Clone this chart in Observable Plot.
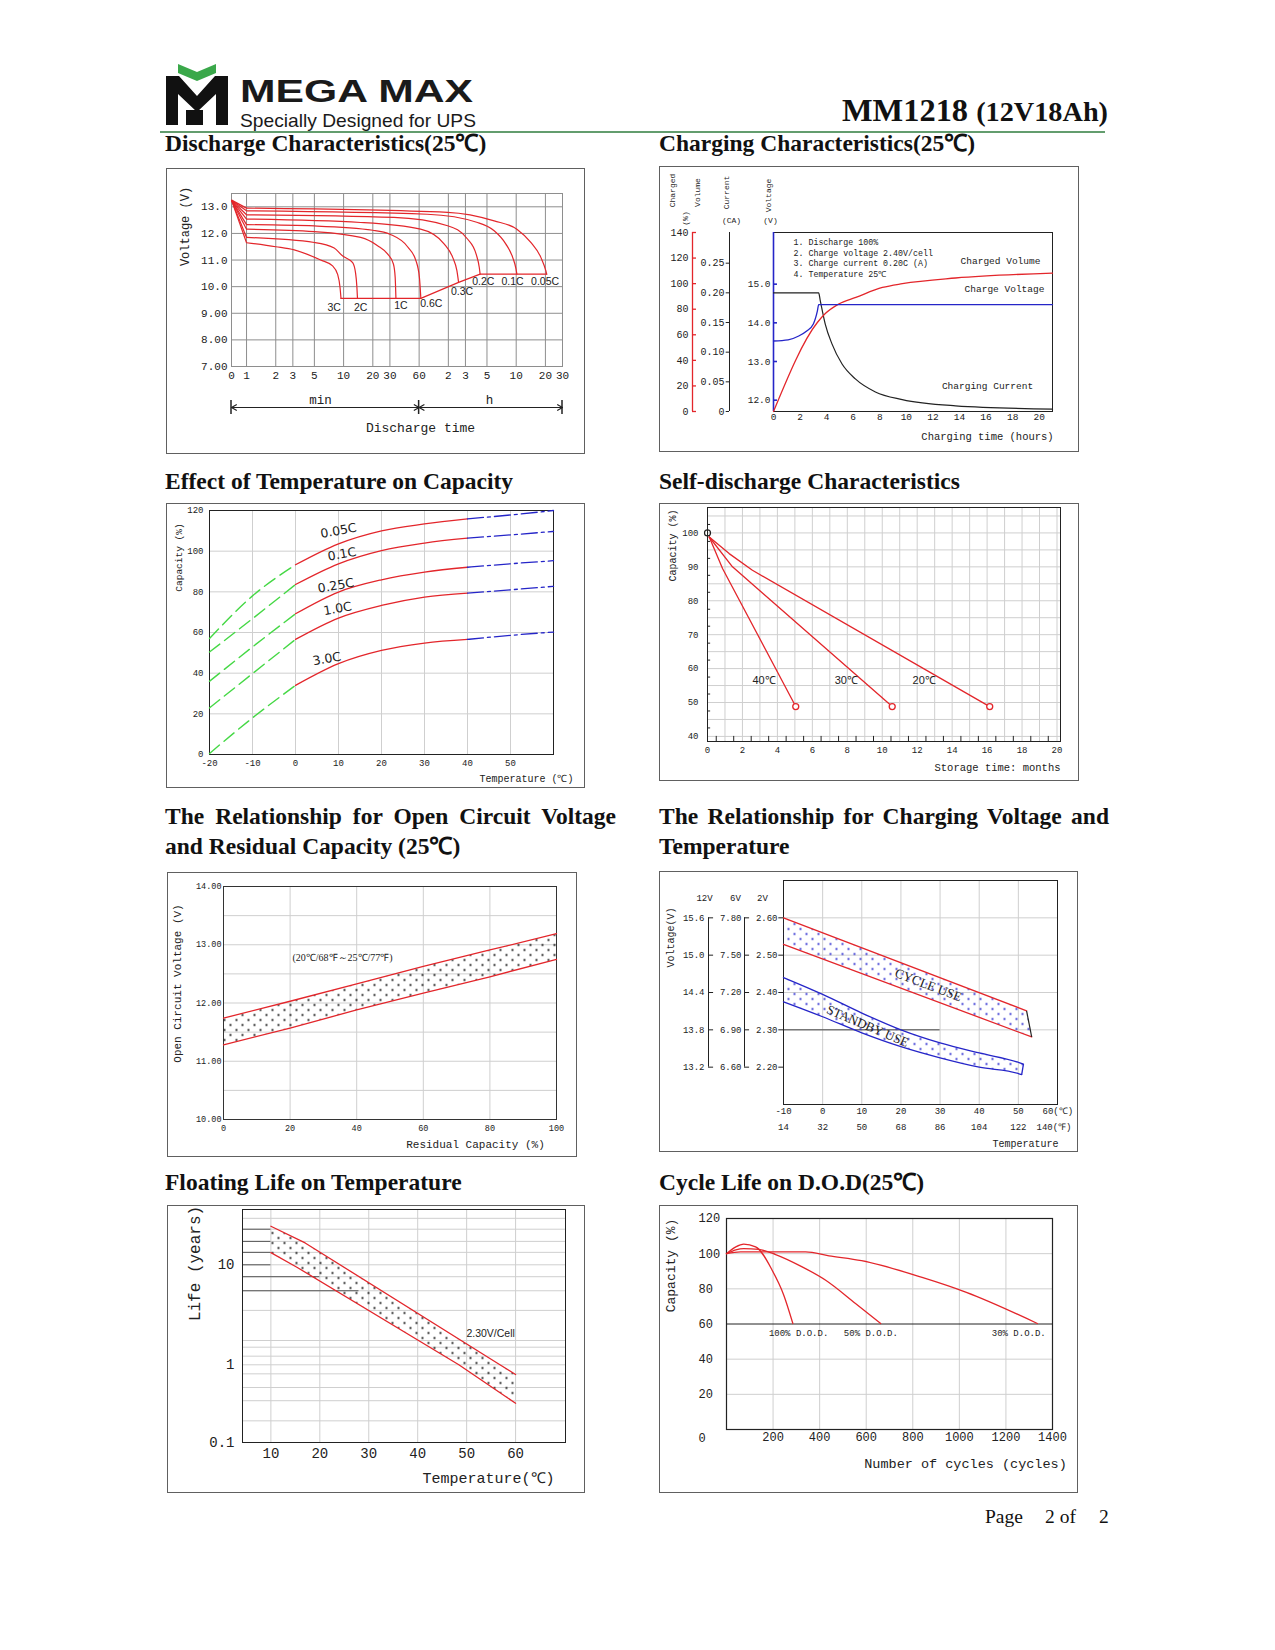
<!DOCTYPE html>
<html><head><meta charset="utf-8">
<script src="https://cdn.jsdelivr.net/npm/d3@7"></script>
<script src="https://cdn.jsdelivr.net/npm/@observablehq/plot@0.6"></script>
<style>
html,body{margin:0;padding:0;background:#fff;}
#page{position:relative;width:1275px;height:1650px;background:#fff;overflow:hidden;}
.box{position:absolute;border:1.5px solid #606060;box-sizing:border-box;}
.title{position:absolute;font-family:"Liberation Serif","Times New Roman",serif;font-weight:bold;font-size:23.5px;line-height:26px;color:#111;white-space:nowrap;}
.just{text-align:justify;text-align-last:justify;white-space:normal;}
.foot{position:absolute;font-family:"Liberation Serif",serif;font-size:19.5px;color:#111;line-height:22px;}
</style></head>
<body><div id="page">
<svg width="0" height="0" style="position:absolute">
<defs>
<pattern id="dotsBlack" width="12" height="10" patternUnits="userSpaceOnUse"><circle cx="3" cy="2.5" r="1.1" fill="#111"/><circle cx="9" cy="7.5" r="1.1" fill="#111"/></pattern>
<pattern id="dotsBlue" width="12" height="10" patternUnits="userSpaceOnUse"><circle cx="3" cy="2.5" r="1.1" fill="#2a2ad0"/><circle cx="9" cy="7.5" r="1.1" fill="#2a2ad0"/></pattern>
</defs></svg>
<svg style="position:absolute;left:0;top:0" width="1275" height="140">
 <polygon points="178,64 197,72 216,64 216,73 197,81 178,73" fill="#3aa84a"/>
 <path d="M166,76 H179 L197,96 L215,76 H228 V125 H216 V94 L197,112 L178,94 V125 H166 Z" fill="#111"/>
 <rect x="186" y="110" width="17" height="15" fill="#111"/>
 <text x="240" y="102" font-family="Liberation Sans, Arial, sans-serif" font-weight="bold" font-size="31" textLength="233" lengthAdjust="spacingAndGlyphs" fill="#1a1a1a">MEGA MAX</text>
 <text x="240" y="127" font-family="Liberation Sans, Arial, sans-serif" font-size="19" textLength="236" lengthAdjust="spacingAndGlyphs" fill="#1a1a1a">Specially Designed for UPS</text>
 <text x="842" y="121" font-family="Liberation Serif, serif" font-weight="bold" font-size="31" textLength="266" lengthAdjust="spacingAndGlyphs" fill="#111">MM1218 <tspan font-size="27">(12V18Ah)</tspan></text>
 <line x1="160" y1="132" x2="1105" y2="132" stroke="#2f7d3e" stroke-width="1.6"/>
</svg>
<div class="title" style="left:165px;top:130px">Discharge Characteristics(25℃)</div>
<div class="title" style="left:659px;top:130px">Charging Characteristics(25℃)</div>
<div class="title" style="left:165px;top:468px">Effect of Temperature on Capacity</div>
<div class="title" style="left:659px;top:468px">Self-discharge Characteristics</div>
<div class="title just" style="left:165px;top:803px;width:451px">The Relationship for Open Circuit Voltage</div>
<div class="title" style="left:165px;top:833px">and Residual Capacity (25℃)</div>
<div class="title just" style="left:659px;top:803px;width:450px">The Relationship for Charging Voltage and</div>
<div class="title" style="left:659px;top:833px">Temperature</div>
<div class="title" style="left:165px;top:1169px">Floating Life on Temperature</div>
<div class="title" style="left:659px;top:1169px">Cycle Life on D.O.D(25℃)</div>
<div class="foot" style="left:985px;top:1506px">Page</div>
<div class="foot" style="left:1045px;top:1506px">2 of</div>
<div class="foot" style="left:1099px;top:1506px">2</div>
</div>
<script>
// ================= DATA =================
// 1. Discharge characteristics (time: minutes, voltage: V)
const dischargeRates = ["3C","2C","1C","0.6C","0.3C","0.2C","0.1C","0.05C"];
const dischargeStartTime = 0.7, dischargeStartVolt = 13.25;
const dischargeTimes = [
  [1,2,3.1,5.8,7.7,8.7,9.2,9.4],
  [1,5,8,9.8,12.4,13.3,13.7,13.9],
  [1,5,15,22.4,28.5,32.6,34,34.6],
  [1,5,20,30,45.6,55.7,60.4,62.5],
  [1,15,62,109,133,147,153],
  [1,33,118,189,232,250,255],
  [1,73,240,356,470,552,598,610],
  [1,118,356,610,849,1077,1212,1237]
];
const dischargeVolts = [
  [11.65,11.5,11.38,11.0,10.78,10.45,9.95,9.56],
  [11.85,11.66,11.45,11.15,10.9,10.5,10.0,9.56],
  [12.16,12.07,11.85,11.54,11.22,10.85,10.35,9.56],
  [12.33,12.28,12.12,11.97,11.5,10.97,10.35,9.56],
  [12.54,12.41,12.16,11.6,11.1,10.6,10.16],
  [12.7,12.6,12.29,11.79,11.22,10.72,10.47],
  [12.85,12.72,12.41,12.1,11.6,11.1,10.66,10.47],
  [12.95,12.79,12.47,12.16,11.66,11.1,10.6,10.47]
];
const dischargeCutoffTimes = [9.4,62.5,153,255,1237];
const dischargeCutoffVolts = [9.56,9.56,10.16,10.47,10.47];
const dischargeLabelTimes = [8.0,15,39,80,166,275,550,1190];
const dischargeLabelVolts = [9.22,9.22,9.3,9.35,9.8,10.2,10.2,10.2];
const dischargeTicks = [0.7,1,2,3,5,10,20,30,60,120,180,300,600,1200,1800];
const dischargeTickLabels = ["0","1","2","3","5","10","20","30","60","2","3","5","10","20","30"];
const dischargeVoltTicks = [13,12,11,10,9,8,7];
const dischargeVoltLabels = ["13.0","12.0","11.0","10.0","9.00","8.00","7.00"];

// 2. Charging characteristics (hours)
const chargeVoltHours = [0,1.1,1.9,2.5,3.0,3.3,3.4,21];
const chargeVoltValues = [13.53,13.56,13.66,13.79,13.97,14.3,14.47,14.47];
const chargedVolHours = [0,3.3,3.9,4.9,6.2,8.2,9.7,13.7,21];
const chargedVolValues = [0,69.6,76.6,84,89.2,97,100,104.4,108.2];
const chargeCurrentHours = [0,3.4,3.52,3.9,4.4,5.16,6.16,7.67,9.69,13.7,21];
const chargeCurrentValues = [0.20,0.20,0.187,0.147,0.114,0.080,0.055,0.033,0.020,0.0096,0.004];
const chargeHourTicks = [0,2,4,6,8,10,12,14,16,18,20];
const chargedTicks = [0,20,40,60,80,100,120,140];
const currentTicks = [0,0.05,0.10,0.15,0.20,0.25];
const currentLabels = ["0","0.05","0.10","0.15","0.20","0.25"];
const chargeVoltTicks = [12,13,14,15];
const chargeNotes = ["1. Discharge 100%","2. Charge voltage 2.40V/cell","3. Charge current 0.20C (A)","4. Temperature 25℃"];

// 3. Effect of temperature on capacity
const tempCapRates = ["0.05C","0.1C","0.25C","1.0C","3.0C"];
const tempCapTemps = [-20,-10,0,10,20,30,40,50,60];
const tempCapValues = [
  [57,78,93.3,103.6,110,113.4,115.9,117.8,120],
  [50.4,66.8,83.6,93.8,100.3,104,106.4,108,109.7],
  [36,52.9,69.2,79.9,85.9,89.7,92.1,93.8,95.3],
  [22.9,39.8,56.6,67.1,73.3,77.4,79.4,81,82.7],
  [0.5,18,34,44.7,51.2,54.8,56.6,58.6,60.2]
];
const tempCapLabelT = [10,10.8,9.4,9.8,7.3];
const tempCapLabelC = [110,98.5,83,71.7,47];
const tempCapXTicks = [-20,-10,0,10,20,30,40,50];
const tempCapYTicks = [0,20,40,60,80,100,120];

// 4. Self-discharge
const selfTemps = ["40℃","30℃","20℃"];
const selfMonths = [[0.1,0.86,5.05],[0.1,1.43,10.57],[0.1,1.24,2.57,16.15]];
const selfCaps = [[98.8,89.5,48.8],[98.8,90,48.8],[98.8,93.9,89,48.8]];
const selfLabelMonths = [3.24,7.94,12.4];
const selfLabelCap = 56.5;
const selfXTicks = [0,2,4,6,8,10,12,14,16,18,20];
const selfYTicks = [40,50,60,70,80,90,100];

// 5. Open circuit voltage vs residual capacity
const ocvCapacity = [0,20,40,60,80,100];
const ocvUpper = [11.74,12.03,12.33,12.63,12.91,13.19];
const ocvLower = [11.28,11.57,11.88,12.17,12.45,12.75];
const ocvXTicks = [0,20,40,60,80,100];
const ocvYTicks = [10,11,12,13,14];

// 6. Charging voltage vs temperature (2V cell)
const cycleUpperT = [-10,52.1], cycleUpperV = [2.60,2.351];
const cycleLowerT = [-10,53.4], cycleLowerV = [2.529,2.281];
const standbyUpperT = [-10,0,10,20,30,40,50,51.3];
const standbyUpperV = [2.44,2.395,2.345,2.30,2.265,2.238,2.213,2.208];
const standbyLowerT = [-10,0,10,20,30,40,50,50.85];
const standbyLowerV = [2.375,2.335,2.292,2.255,2.225,2.20,2.183,2.18];
const cvTicks = [2.6,2.5,2.4,2.3,2.2];
const cvTempC = [-10,0,10,20,30,40,50];
const cvTempF = ["14","32","50","68","86","104","122"];

// 7. Floating life vs temperature
const lifeUpperT = [10,17,56.8,60], lifeUpperY = [24.2,16.5,1.0,0.75];
const lifeLowerT = [10,15.4,48.4,60], lifeLowerY = [13.2,9.4,1.0,0.32];
const lifeGrid = [29,22.6,17.1,13.3,10,7.6,5.5,3.5,1.75,1.5,1.22,1,0.765,0.51,0.345,0.19];
const lifeXTicks = [10,20,30,40,50,60];
const lifeYTicks = [10,1,0.1];

// 8. Cycle life vs D.O.D.
const dod100Cycles = [0,40,74,125,196,246,285], dod100Cap = [100,103.9,105.4,103.9,90.6,76.4,60.3];
const dod50Cycles = [0,40,74,139,211,325,426,554,662], dod50Cap = [100,102.2,102.9,102.4,99.5,92.5,84.9,71.7,60.3];
const dod30Cycles = [0,60,340,440,580,840,1030,1335], dod30Cap = [100,101,101,98.8,96,86.5,78,60.3];
const dodLabels = ["100% D.O.D.","50% D.O.D.","30% D.O.D."];
const dodLabelCycles = [182,504,1139];
const cycleXTicks = [200,400,600,800,1000,1200,1400];
const cycleYTicks = [20,40,60,80,100,120];

// ================= DRAWING =================
const page = document.getElementById("page");
const RED = "#e3262b", BLUE = "#2525c8", GREEN = "#45d845", GRIDC = "#cfcfcf";
const MONO = "'Liberation Mono','DejaVu Sans Mono',monospace";
const NARROW = "'Liberation Sans Narrow','Liberation Sans',sans-serif";
const SERIF = "'Liberation Serif',serif";
const pts = (xs, ys) => xs.map((x, i) => ({x, y: ys[i]}));
const band = (ux, uy, lx, ly) => [...pts(ux, uy), ...pts(lx, ly).reverse()];

function panel(box, frame, build) {
  const [bx, by, bx2, by2] = box, [fx, fy, fx2, fy2] = frame;
  const b = document.createElement("div");
  b.className = "box";
  Object.assign(b.style, {left: bx + "px", top: by + "px", width: (bx2 - bx) + "px", height: (by2 - by) + "px"});
  page.appendChild(b);
  const T = (text, ax, ay, o = {}) => Plot.text([text], {text: d => d, frameAnchor: "top-left", dx: ax - fx, dy: ay - fy, textAnchor: "middle", lineAnchor: "middle", ...o});
  const svg = Plot.plot({
    width: bx2 - bx, height: by2 - by,
    marginLeft: fx - bx, marginTop: fy - by, marginRight: bx2 - fx2, marginBottom: by2 - fy2,
    style: {background: "none", overflow: "visible", fontFamily: MONO, fontSize: "10px", color: "#222"},
    ...build(T)
  });
  Object.assign(svg.style, {position: "absolute", left: bx + "px", top: by + "px", maxWidth: "none"});
  page.appendChild(svg);
  return svg;
}

// ---- 1. Discharge ----
const p1 = panel([166,168,585,454], [231,193,562,366], T => ({
  x: {type: "log", domain: [0.7, 1800], axis: null},
  y: {domain: [7, 13.5], axis: null},
  marks: [
    Plot.ruleX(dischargeTicks, {stroke: "#8e8e8e"}),
    Plot.ruleY(dischargeVoltTicks.slice(0, -1), {stroke: "#8e8e8e"}),
    Plot.frame({stroke: "#8e8e8e"}),
    Plot.link(dischargeRates, {x1: () => dischargeStartTime, y1: () => dischargeStartVolt,
      x2: (d, i) => dischargeTimes[i][0], y2: (d, i) => dischargeVolts[i][0], stroke: RED, strokeWidth: 1.2}),
    ...dischargeRates.map((r, i) => Plot.line(pts(dischargeTimes[i], dischargeVolts[i]), {x: "x", y: "y", stroke: RED, strokeWidth: 1.2, curve: "monotone-x"})),
    Plot.line(pts(dischargeCutoffTimes, dischargeCutoffVolts), {x: "x", y: "y", stroke: RED, strokeWidth: 1.2}),
    Plot.text(dischargeRates, {x: (d, i) => dischargeLabelTimes[i], y: (d, i) => dischargeLabelVolts[i], text: d => d, fontFamily: NARROW, fontSize: 10.5, fill: "#222"}),
    Plot.text(dischargeTicks, {x: d => d, frameAnchor: "bottom", dy: 12, text: (d, i) => dischargeTickLabels[i], fontSize: 11}),
    Plot.text(dischargeVoltTicks, {y: d => d, frameAnchor: "left", dx: -4, textAnchor: "end", text: (d, i) => dischargeVoltLabels[i], fontSize: 11}),
    Plot.arrow([[10, 0.7], [10, 60], [300, 60], [300, 1800]], {x1: d => d[0], x2: d => d[1], y1: () => 7, y2: () => 7, dy: 41, headLength: 7, stroke: "#222", strokeWidth: 1.2}),
    T("Voltage (V)", 185, 226, {rotate: -90, fontSize: 12}),
    T("min", 320, 399, {fontSize: 12.5}),
    T("h", 489, 399, {fontSize: 12.5}),
    T("Discharge time", 420, 427, {fontSize: 13})
  ]
}));
{
  const sx = p1.scale("x");
  const g = d3.select(p1).append("g").attr("stroke", "#222").attr("stroke-width", 1.5);
  [0.7, 60, 1800].forEach(v => g.append("line").attr("x1", sx.apply(v)).attr("x2", sx.apply(v)).attr("y1", 400 - 168).attr("y2", 414 - 168));
}

// ---- 2. Charging ----
const VMIN = 11.707, VMAX = 16.336, CMAX = 0.3017;
const vToY = v => (v - VMIN) / (VMAX - VMIN) * 140;
const cToY = c => c / CMAX * 140;
panel([659,166,1079,452], [773,232,1052,411], T => ({
  x: {domain: [0, 21], axis: null},
  y: {domain: [0, 140], axis: null},
  marks: [
    Plot.frame({stroke: "#222"}),
    Plot.ruleX([0], {stroke: BLUE, strokeWidth: 1.6}),
    Plot.ruleY(chargeVoltTicks, {y: vToY, x1: () => 0, x2: () => 0.3, stroke: BLUE, strokeWidth: 1.6}),
    Plot.text(chargeVoltTicks, {y: vToY, frameAnchor: "left", dx: -3, textAnchor: "end", text: d => d.toFixed(1), fontSize: 9.5}),
    Plot.ruleX([0], {y1: () => 0, y2: () => 140, dx: -81, stroke: RED, strokeWidth: 1.3}),
    Plot.ruleY(chargedTicks, {x1: () => 0, x2: () => 0.3, dx: -81, stroke: RED, strokeWidth: 1.3}),
    Plot.text(chargedTicks, {y: d => d, frameAnchor: "left", dx: -85, textAnchor: "end", text: d => String(d), fontSize: 10}),
    Plot.ruleX([0], {y1: () => 0, y2: () => 140, dx: -44, stroke: "#222"}),
    Plot.ruleY(currentTicks, {y: cToY, x1: () => -0.25, x2: () => 0, dx: -44, stroke: "#222"}),
    Plot.text(currentTicks, {y: cToY, frameAnchor: "left", dx: -49, textAnchor: "end", text: (d, i) => currentLabels[i], fontSize: 10}),
    Plot.line(pts(chargeCurrentHours, chargeCurrentValues), {x: "x", y: d => cToY(d.y), stroke: "#222", strokeWidth: 1.2, curve: "monotone-x"}),
    Plot.line(pts(chargedVolHours, chargedVolValues), {x: "x", y: "y", stroke: RED, strokeWidth: 1.3, curve: "monotone-x"}),
    Plot.line(pts(chargeVoltHours, chargeVoltValues), {x: "x", y: d => vToY(d.y), stroke: BLUE, strokeWidth: 1.3, curve: "monotone-x"}),
    Plot.text(chargeHourTicks, {x: d => d, frameAnchor: "bottom", dy: 8, text: d => String(d), fontSize: 9.5}),
    ...chargeNotes.map((n, i) => T(n, 793, 242 + i * 10.5, {textAnchor: "start", fontSize: 8.3})),
    T("Charged Volume", 1000, 260, {fontSize: 9.5}),
    T("Charge Voltage", 1004, 288, {fontSize: 9.5}),
    T("Charging Current", 987, 385, {fontSize: 9.5}),
    T("Charging time (hours)", 987, 436, {fontSize: 10.5}),
    T("Charged", 672, 190, {rotate: -90, fontSize: 8}),
    T("(%)", 685, 218, {rotate: -90, fontSize: 8}),
    T("Volume", 697, 192, {rotate: -90, fontSize: 8}),
    T("Current", 726, 192, {rotate: -90, fontSize: 8}),
    T("(CA)", 731, 220, {fontSize: 8}),
    T("Voltage", 768, 195, {rotate: -90, fontSize: 8}),
    T("(V)", 770, 220, {fontSize: 8})
  ]
}));

// ---- 3. Temperature vs capacity ----
const tcRows = tempCapRates.flatMap((r, i) => tempCapTemps.map((t, j) => ({r, t, c: tempCapValues[i][j]})));
panel([166,503,585,788], [209,510,553,754], T => ({
  x: {domain: [-20, 60], axis: null},
  y: {domain: [0, 120], axis: null},
  marks: [
    Plot.ruleX([-10,0,10,20,30,40,50], {stroke: GRIDC}),
    Plot.ruleY([20,40,60,80,100], {stroke: GRIDC}),
    Plot.frame({stroke: "#222"}),
    Plot.line(tcRows.filter(d => d.t <= 0), {x: "t", y: "c", z: "r", stroke: GREEN, strokeWidth: 1.4, strokeDasharray: "13,6", curve: "monotone-x"}),
    Plot.line(tcRows.filter(d => d.t >= 0 && d.t <= 40), {x: "t", y: "c", z: "r", stroke: RED, strokeWidth: 1.3, curve: "monotone-x"}),
    Plot.line(tcRows.filter(d => d.t >= 40), {x: "t", y: "c", z: "r", stroke: BLUE, strokeWidth: 1.3, strokeDasharray: "16,4,3,4", curve: "monotone-x"}),
    Plot.text(tempCapRates, {x: (d, i) => tempCapLabelT[i], y: (d, i) => tempCapLabelC[i], text: d => d, rotate: -10, fontFamily: "'DejaVu Sans',sans-serif", fontSize: 12.5, fill: "#222"}),
    Plot.text(tempCapXTicks, {x: d => d, frameAnchor: "bottom", dy: 11, text: d => String(d), fontSize: 9}),
    Plot.text(tempCapYTicks, {y: d => d, frameAnchor: "left", dx: -6, textAnchor: "end", text: d => String(d), fontSize: 9}),
    T("Temperature (℃)", 573, 778, {textAnchor: "end", fontSize: 10}),
    T("Capacity (%)", 178, 557, {rotate: -90, fontSize: 9.5})
  ]
}));

// ---- 4. Self discharge ----
panel([659,503,1079,781], [707,507,1060,741], T => ({
  x: {domain: [0, 20.2], axis: null},
  y: {domain: [38.5, 107.5], axis: null},
  marks: [
    Plot.ruleX(d3.range(1, 21), {stroke: GRIDC}),
    Plot.ruleY(d3.range(40, 106, 5), {stroke: GRIDC}),
    Plot.frame({stroke: "#222"}),
    Plot.ruleX(d3.range(0.5, 20, 1), {y1: () => 38.5, y2: () => 40, stroke: "#222"}),
    Plot.ruleY(d3.range(42.5, 106, 5), {x1: () => 0, x2: () => 0.18, stroke: "#222"}),
    ...selfTemps.map((s, i) => Plot.line(pts(selfMonths[i], selfCaps[i]), {x: "x", y: "y", stroke: RED, strokeWidth: 1.3})),
    Plot.dot(selfTemps, {x: (d, i) => selfMonths[i][selfMonths[i].length - 1], y: (d, i) => selfCaps[i][selfCaps[i].length - 1], r: 3, stroke: RED, strokeWidth: 1.3, fill: "white"}),
    Plot.dot([0], {x: () => 0, y: () => 100, r: 3, stroke: "#222", strokeWidth: 1.2}),
    Plot.text(selfTemps, {x: (d, i) => selfLabelMonths[i], y: () => selfLabelCap, text: d => d, fontFamily: NARROW, fontSize: 11, fill: "#222"}),
    Plot.text(selfXTicks, {x: d => d, frameAnchor: "bottom", dy: 11, text: d => String(d), fontSize: 9}),
    Plot.text(selfYTicks, {y: d => d, frameAnchor: "left", dx: -9, textAnchor: "end", text: d => String(d), fontSize: 9}),
    T("Storage time: months", 997, 767, {fontSize: 10.5}),
    T("Capacity (%)", 672, 545, {rotate: -90, fontSize: 10})
  ]
}));

// ---- 5. Open circuit voltage ----
panel([167,872,577,1157], [223,886,556,1119], T => ({
  x: {domain: [0, 100], axis: null},
  y: {domain: [10, 14], axis: null},
  marks: [
    Plot.ruleX([20,40,60,80], {stroke: GRIDC}),
    Plot.ruleY(d3.range(10.5, 14, 0.5), {stroke: GRIDC}),
    Plot.frame({stroke: "#333"}),
    Plot.line(band(ocvCapacity, ocvUpper, ocvCapacity, ocvLower), {x: "x", y: "y", fill: "url(#dotsBlack)", stroke: "none"}),
    Plot.line(pts(ocvCapacity, ocvUpper), {x: "x", y: "y", stroke: RED, strokeWidth: 1.3}),
    Plot.line(pts(ocvCapacity, ocvLower), {x: "x", y: "y", stroke: RED, strokeWidth: 1.3}),
    Plot.text(["(20℃/68℉～25℃/77℉)"], {x: () => 20.7, y: () => 12.78, text: d => d, textAnchor: "start", fontFamily: SERIF, fontSize: 10}),
    Plot.text(ocvXTicks, {x: d => d, frameAnchor: "bottom", dy: 11, text: d => String(d), fontSize: 8.5}),
    Plot.text(ocvYTicks, {y: d => d, frameAnchor: "left", dx: -2, textAnchor: "end", text: d => d.toFixed(2), fontSize: 8.5}),
    T("Residual Capacity (%)", 475, 1144, {fontSize: 11}),
    T("Open Circuit Voltage (V)", 177, 983, {rotate: -90, fontSize: 11})
  ]
}));

// ---- 6. Charging voltage vs temperature ----
panel([659,871,1078,1152], [783,880,1057,1104], T => ({
  x: {domain: [-10, 60], axis: null},
  y: {domain: [2.10, 2.70], axis: null},
  marks: [
    Plot.ruleX([0,10,20,30,40,50], {stroke: GRIDC}),
    Plot.ruleY([2.3,2.4,2.5,2.6], {stroke: GRIDC}),
    Plot.ruleY([2.3], {x1: () => -10, x2: () => 30, stroke: "#444"}),
    Plot.frame({stroke: "#222"}),
    Plot.line(band(cycleUpperT, cycleUpperV, cycleLowerT, cycleLowerV), {x: "x", y: "y", fill: "url(#dotsBlue)", stroke: "none"}),
    Plot.line(band(standbyUpperT, standbyUpperV, standbyLowerT, standbyLowerV), {x: "x", y: "y", fill: "url(#dotsBlue)", stroke: "none"}),
    Plot.line(pts(cycleUpperT, cycleUpperV), {x: "x", y: "y", stroke: RED, strokeWidth: 1.3}),
    Plot.line(pts(cycleLowerT, cycleLowerV), {x: "x", y: "y", stroke: RED, strokeWidth: 1.3}),
    Plot.link([0], {x1: () => cycleUpperT[1], y1: () => cycleUpperV[1], x2: () => cycleLowerT[1], y2: () => cycleLowerV[1], stroke: "#222", strokeWidth: 1.2}),
    Plot.line(pts(standbyUpperT, standbyUpperV), {x: "x", y: "y", stroke: BLUE, strokeWidth: 1.3, curve: "monotone-x"}),
    Plot.line(pts(standbyLowerT, standbyLowerV), {x: "x", y: "y", stroke: BLUE, strokeWidth: 1.3, curve: "monotone-x"}),
    Plot.link([0], {x1: () => standbyUpperT[7], y1: () => standbyUpperV[7], x2: () => standbyLowerT[7], y2: () => standbyLowerV[7], stroke: BLUE, strokeWidth: 1.3}),
    Plot.text(["CYCLE USE"], {x: () => 27, y: () => 2.42, text: d => d, rotate: 21, fontFamily: SERIF, fontSize: 13, fill: "#222"}),
    Plot.text(["STANDBY USE"], {x: () => 11.5, y: () => 2.31, text: d => d, rotate: 23, fontFamily: SERIF, fontSize: 13, fill: "#222"}),
    // 2V axis
    Plot.ruleY(cvTicks, {x1: () => -11.2, x2: () => -10, stroke: "#222"}),
    Plot.text(cvTicks, {y: d => d, frameAnchor: "left", dx: -6, textAnchor: "end", text: d => d.toFixed(2), fontSize: 9}),
    // 6V axis
    Plot.ruleX([-10], {y1: () => 2.2, y2: () => 2.6, dx: -39, stroke: "#222"}),
    Plot.ruleY(cvTicks, {x1: () => -10, x2: () => -8.7, dx: -39, stroke: "#222"}),
    Plot.text(cvTicks, {y: d => d, frameAnchor: "left", dx: -42, textAnchor: "end", text: d => (d * 3).toFixed(2), fontSize: 9}),
    // 12V axis
    Plot.ruleX([-10], {y1: () => 2.2, y2: () => 2.6, dx: -75, stroke: "#222"}),
    Plot.ruleY(cvTicks, {x1: () => -10, x2: () => -8.7, dx: -75, stroke: "#222"}),
    Plot.text(cvTicks, {y: d => d, frameAnchor: "left", dx: -79, textAnchor: "end", text: d => (d * 6).toFixed(1), fontSize: 9}),
    T("12V", 704, 898, {fontSize: 9}),
    T("6V", 735, 898, {fontSize: 9}),
    T("2V", 762, 898, {fontSize: 9}),
    Plot.text(cvTempC, {x: d => d, frameAnchor: "bottom", dy: 9, text: d => String(d), fontSize: 9}),
    Plot.text(cvTempF, {x: (d, i) => cvTempC[i], frameAnchor: "bottom", dy: 25, text: d => d, fontSize: 9}),
    Plot.text(["60(℃)"], {x: () => 60, frameAnchor: "bottom", dy: 9, dx: -15, textAnchor: "start", text: d => d, fontSize: 9}),
    Plot.text(["140(℉)"], {x: () => 60, frameAnchor: "bottom", dy: 25, dx: -21, textAnchor: "start", text: d => d, fontSize: 9}),
    T("Temperature", 1025, 1143, {fontSize: 10}),
    T("Voltage(V)", 670, 937, {rotate: -90, fontSize: 10})
  ]
}));

// ---- 7. Floating life ----
panel([167,1205,585,1493], [242,1209,565,1442], T => ({
  x: {domain: [4.2, 70.2], axis: null},
  y: {type: "log", domain: [0.1, 1, 10, 35.5], range: [237, 159.3, 59.3, 4], axis: null},
  marks: [
    Plot.ruleX(lifeXTicks, {stroke: GRIDC}),
    Plot.ruleY(lifeGrid, {stroke: GRIDC}),
    Plot.ruleY(lifeGrid.slice(1, 5), {x1: () => 4.2, x2: () => 10, stroke: "#555"}),
    Plot.ruleY([7.6], {x1: () => 4.2, x2: () => 20, stroke: "#555"}),
    Plot.ruleY([5.5], {x1: () => 4.2, x2: () => 28, stroke: "#555"}),
    Plot.frame({stroke: "#222"}),
    Plot.line(band(lifeUpperT, lifeUpperY, lifeLowerT, lifeLowerY), {x: "x", y: "y", fill: "url(#dotsBlack)", stroke: "none"}),
    Plot.line(pts(lifeUpperT, lifeUpperY), {x: "x", y: "y", stroke: RED, strokeWidth: 1.3}),
    Plot.line(pts(lifeLowerT, lifeLowerY), {x: "x", y: "y", stroke: RED, strokeWidth: 1.3}),
    Plot.text(["2.30V/Cell"], {x: () => 54.9, y: () => 2.07, text: d => d, fontFamily: NARROW, fontSize: 10.5}),
    Plot.text(lifeXTicks, {x: d => d, frameAnchor: "bottom", dy: 15, text: d => String(d), fontSize: 14}),
    Plot.text(lifeYTicks, {y: d => d, frameAnchor: "left", dx: -8, textAnchor: "end", text: d => String(d), fontSize: 14}),
    T("Temperature(℃)", 488, 1478, {fontSize: 15}),
    T("Life (years)", 194, 1263, {rotate: -90, fontSize: 16})
  ]
}));

// ---- 8. Cycle life ----
panel([659,1205,1078,1493], [726,1218,1052,1429], T => ({
  x: {domain: [0, 1400], axis: null},
  y: {domain: [0, 120], axis: null},
  marks: [
    Plot.ruleX([200,400,600,800,1000,1200], {stroke: GRIDC}),
    Plot.ruleY([20,40,80,100], {stroke: GRIDC}),
    Plot.ruleY([60], {stroke: "#222"}),
    Plot.frame({stroke: "#222", strokeWidth: 1.2}),
    Plot.line(pts(dod100Cycles, dod100Cap), {x: "x", y: "y", stroke: RED, strokeWidth: 1.3, curve: "monotone-x"}),
    Plot.line(pts(dod50Cycles, dod50Cap), {x: "x", y: "y", stroke: RED, strokeWidth: 1.3, curve: "monotone-x"}),
    Plot.line(pts(dod30Cycles, dod30Cap), {x: "x", y: "y", stroke: RED, strokeWidth: 1.3, curve: "monotone-x"}),
    Plot.text(dodLabels, {x: (d, i) => dodLabelCycles[i], y: () => 55, text: d => d, textAnchor: "start", fontSize: 9}),
    Plot.text(cycleXTicks, {x: d => d, frameAnchor: "bottom", dy: 11, text: d => String(d), fontSize: 12}),
    Plot.text(cycleYTicks, {y: d => d, frameAnchor: "left", dx: -28, text: d => String(d), fontSize: 12}),
    Plot.text([0], {y: () => 0, frameAnchor: "left", dx: -28, dy: 9, text: () => "0", fontSize: 12}),
    T("Number of cycles (cycles)", 965, 1463, {fontSize: 13.5}),
    T("Capacity (%)", 670, 1265, {rotate: -90, fontSize: 13})
  ]
}));
</script>
</body></html>
